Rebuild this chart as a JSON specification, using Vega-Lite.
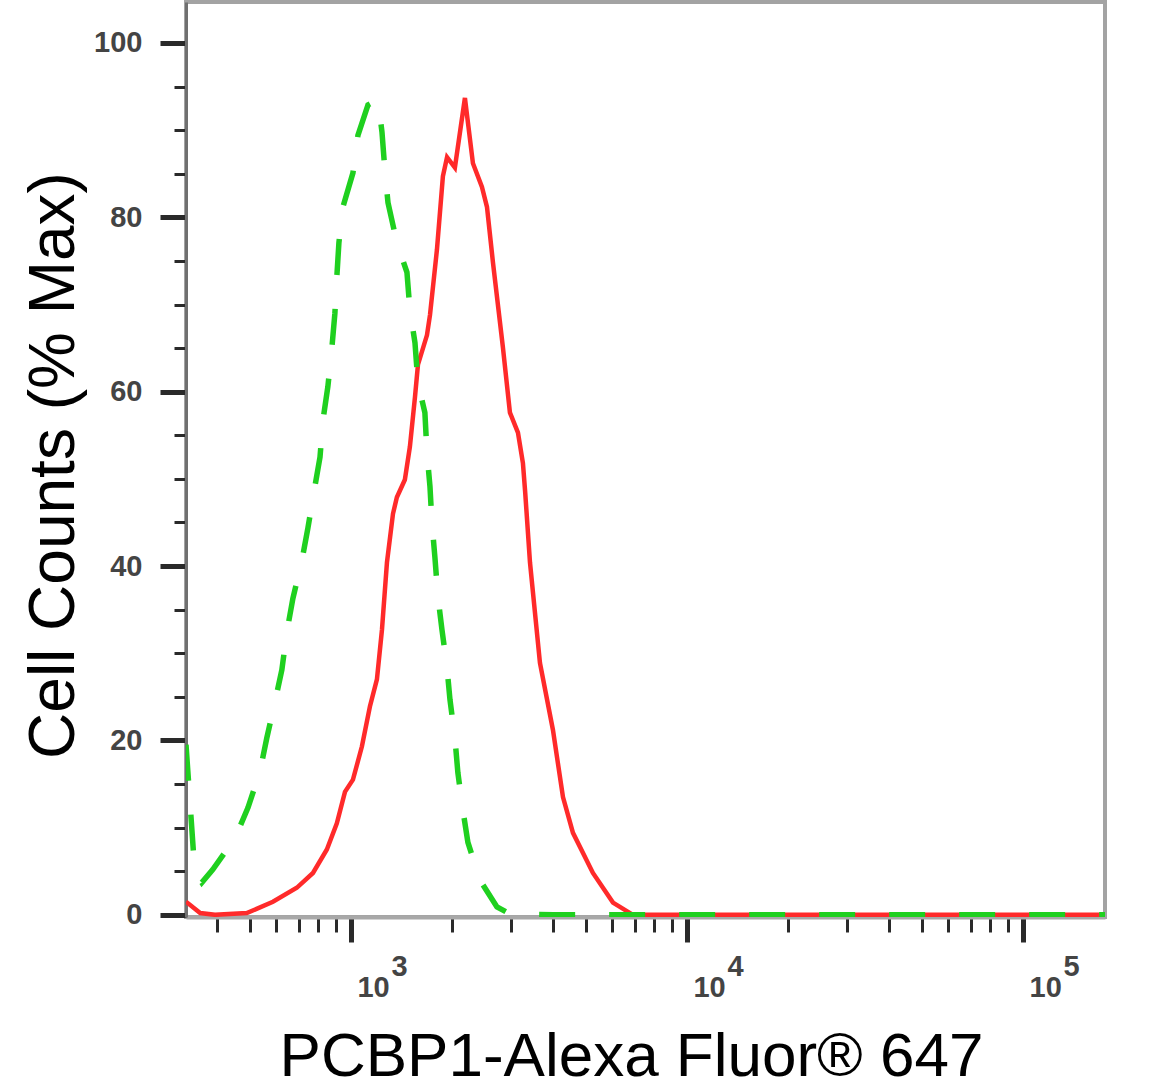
{
  "$schema": "https://vega.github.io/schema/vega-lite/v6.json",
  "width": 919,
  "height": 915,
  "autosize": {"type": "none"},
  "padding": {"left": 186, "top": 2, "right": 45, "bottom": 173},
  "background": "white",
  "config": {"view": {"stroke": "#a3a3a3", "strokeWidth": 4}},
  "datasets": {
    "stained": [
      {"x": 323, "y": 1.5}, {"x": 356, "y": 0.2}, {"x": 394, "y": 0}, {"x": 490, "y": 0.2},
      {"x": 586, "y": 1.5}, {"x": 690, "y": 3.1}, {"x": 771, "y": 4.8}, {"x": 848, "y": 7.5},
      {"x": 908, "y": 10.5}, {"x": 960, "y": 14.1}, {"x": 1014, "y": 15.5}, {"x": 1078, "y": 19.3},
      {"x": 1139, "y": 23.9}, {"x": 1195, "y": 27}, {"x": 1237, "y": 32.7}, {"x": 1280, "y": 40.4},
      {"x": 1334, "y": 46}, {"x": 1370, "y": 47.9}, {"x": 1447, "y": 49.9}, {"x": 1498, "y": 53.7},
      {"x": 1551, "y": 59.4}, {"x": 1583, "y": 63.1}, {"x": 1684, "y": 66.5}, {"x": 1719, "y": 68.8},
      {"x": 1803, "y": 76.3}, {"x": 1878, "y": 84.7}, {"x": 1932, "y": 86.9}, {"x": 2039, "y": 85.7},
      {"x": 2184, "y": 93.7}, {"x": 2307, "y": 86.2}, {"x": 2454, "y": 83.5}, {"x": 2540, "y": 81.2},
      {"x": 2647, "y": 74.8}, {"x": 2833, "y": 65.1}, {"x": 2973, "y": 57.6}, {"x": 3141, "y": 55.3},
      {"x": 3250, "y": 51.8}, {"x": 3300, "y": 48.5}, {"x": 3411, "y": 40.4}, {"x": 3652, "y": 28.9},
      {"x": 3992, "y": 21.2}, {"x": 4276, "y": 13.5}, {"x": 4579, "y": 9.4}, {"x": 5250, "y": 4.8},
      {"x": 6023, "y": 1.4}, {"x": 6905, "y": 0}, {"x": 10000, "y": 0}, {"x": 50000, "y": 0},
      {"x": 175400, "y": 0}
    ],
    "control": [
      {"x": 323, "y": 19.5}, {"x": 343, "y": 5}, {"x": 360, "y": 3.7}, {"x": 388, "y": 5.2},
      {"x": 452, "y": 8.8}, {"x": 494, "y": 12.3}, {"x": 536, "y": 16.4}, {"x": 562, "y": 20.3},
      {"x": 594, "y": 24.4}, {"x": 623, "y": 28.1}, {"x": 645, "y": 32.5}, {"x": 672, "y": 36.3},
      {"x": 715, "y": 40.7}, {"x": 745, "y": 44.4}, {"x": 781, "y": 49.1}, {"x": 809, "y": 52.5},
      {"x": 826, "y": 56.8}, {"x": 854, "y": 60.6}, {"x": 878, "y": 65.1}, {"x": 896, "y": 69},
      {"x": 908, "y": 73.2}, {"x": 921, "y": 77.1}, {"x": 947, "y": 81.2}, {"x": 1014, "y": 85.1},
      {"x": 1049, "y": 89.4}, {"x": 1124, "y": 92.9}, {"x": 1203, "y": 93.5}, {"x": 1237, "y": 89.8},
      {"x": 1262, "y": 85.4}, {"x": 1289, "y": 81.7}, {"x": 1370, "y": 77.1}, {"x": 1468, "y": 73.7},
      {"x": 1498, "y": 69.4}, {"x": 1551, "y": 65.6}, {"x": 1583, "y": 61}, {"x": 1660, "y": 57.6},
      {"x": 1684, "y": 53}, {"x": 1719, "y": 49.1}, {"x": 1742, "y": 45}, {"x": 1778, "y": 41},
      {"x": 1815, "y": 36.5}, {"x": 1866, "y": 32.7}, {"x": 1931, "y": 28.4}, {"x": 1971, "y": 24.7},
      {"x": 2039, "y": 20.3}, {"x": 2081, "y": 16.3}, {"x": 2154, "y": 12}, {"x": 2229, "y": 8.3},
      {"x": 2420, "y": 4}, {"x": 2720, "y": 0.9}, {"x": 2973, "y": 0.1}, {"x": 4000, "y": 0},
      {"x": 20000, "y": 0}, {"x": 175400, "y": 0}
    ]
  },
  "resolve": {"axis": {"x": "independent"}},
  "layer": [
    {
      "data": {"name": "stained"},
      "mark": {"type": "line", "color": "#ff2a2a", "strokeWidth": 4.5, "clip": true},
      "encoding": {
        "x": {
          "field": "x", "type": "quantitative",
          "scale": {"type": "log", "domain": [323, 175400], "nice": false},
          "axis": {
            "orient": "bottom",
            "values": [400, 500, 600, 700, 800, 900, 1000, 2000, 3000, 4000, 5000, 6000, 7000, 8000, 9000, 10000, 20000, 30000, 40000, 50000, 60000, 70000, 80000, 90000, 100000],
            "labelExpr": "(datum.value == 1000 || datum.value == 10000 || datum.value == 100000) ? '10' : ''",
            "tickSize": {"condition": {"test": "datum.value == 1000 || datum.value == 10000 || datum.value == 100000", "value": 25}, "value": 15},
            "tickWidth": {"condition": {"test": "datum.value == 1000 || datum.value == 10000 || datum.value == 100000", "value": 5}, "value": 3},
            "tickColor": "#2a2a2a",
            "domainColor": "#a8a8a8",
            "domainWidth": 4,
            "grid": false,
            "labelFont": "Liberation Sans, Arial",
            "labelFontSize": 29,
            "labelFontWeight": "bold",
            "labelColor": "#444444",
            "labelAlign": "left",
            "labelBaseline": "alphabetic",
            "labelPadding": 54,
            "labelOffset": 6,
            "labelFlush": false,
            "labelOverlap": false,
            "title": "PCBP1-Alexa Fluor® 647",
            "titleFont": "Liberation Sans, Arial",
            "titleFontSize": 62,
            "titleFontWeight": "normal",
            "titleColor": "#000000",
            "titleX": 445,
            "titleY": 158,
            "titleAlign": "center",
            "titleBaseline": "alphabetic"
          }
        },
        "y": {
          "field": "y", "type": "quantitative",
          "scale": {"domain": [-0.25, 104.7], "nice": false, "zero": false},
          "axis": {
            "values": [0, 5, 10, 15, 20, 25, 30, 35, 40, 45, 50, 55, 60, 65, 70, 75, 80, 85, 90, 95, 100],
            "labelExpr": "datum.value % 20 == 0 ? datum.label : ''",
            "tickSize": {"condition": {"test": "datum.value % 20 == 0", "value": 26}, "value": 12},
            "tickWidth": {"condition": {"test": "datum.value % 20 == 0", "value": 5}, "value": 3},
            "tickColor": "#2a2a2a",
            "domainColor": "#707070",
            "domainWidth": 3,
            "grid": false,
            "labelFont": "Liberation Sans, Arial",
            "labelFontSize": 29,
            "labelFontWeight": "bold",
            "labelColor": "#444444",
            "labelPadding": 18,
            "labelAlign": "right",
            "labelBaseline": "middle",
            "labelOverlap": false,
            "labelFlush": false,
            "title": "Cell Counts (% Max)",
            "titleFont": "Liberation Sans, Arial",
            "titleFontSize": 64,
            "titleFontWeight": "normal",
            "titleColor": "#000000",
            "titleAngle": -90,
            "titleX": -113,
            "titleY": 463,
            "titleAlign": "center",
            "titleBaseline": "alphabetic"
          }
        }
      }
    },
    {
      "data": {"name": "control"},
      "mark": {"type": "line", "color": "#1fd01f", "strokeWidth": 5.5, "strokeDash": [36, 34], "clip": true},
      "encoding": {
        "x": {
          "field": "x", "type": "quantitative",
          "scale": {"type": "log", "domain": [323, 175400], "nice": false},
          "axis": {
            "orient": "bottom",
            "values": [1000, 10000, 100000],
            "labelExpr": "datum.value == 1000 ? '3' : datum.value == 10000 ? '4' : '5'",
            "ticks": false,
            "tickSize": 0,
            "domain": false,
            "grid": false,
            "labelFont": "Liberation Sans, Arial",
            "labelFontSize": 29,
            "labelFontWeight": "bold",
            "labelColor": "#444444",
            "labelAlign": "left",
            "labelBaseline": "alphabetic",
            "labelPadding": 58,
            "labelOffset": 40,
            "labelFlush": false,
            "labelOverlap": false,
            "title": null
          }
        },
        "y": {
          "field": "y", "type": "quantitative",
          "scale": {"domain": [-0.25, 104.7], "nice": false, "zero": false},
          "axis": {
            "values": [0, 5, 10, 15, 20, 25, 30, 35, 40, 45, 50, 55, 60, 65, 70, 75, 80, 85, 90, 95, 100],
            "labelExpr": "datum.value % 20 == 0 ? datum.label : ''",
            "tickSize": {"condition": {"test": "datum.value % 20 == 0", "value": 26}, "value": 12},
            "tickWidth": {"condition": {"test": "datum.value % 20 == 0", "value": 5}, "value": 3},
            "tickColor": "#2a2a2a",
            "domainColor": "#707070",
            "domainWidth": 3,
            "grid": false,
            "labelFont": "Liberation Sans, Arial",
            "labelFontSize": 29,
            "labelFontWeight": "bold",
            "labelColor": "#444444",
            "labelPadding": 18,
            "labelAlign": "right",
            "labelBaseline": "middle",
            "labelOverlap": false,
            "labelFlush": false,
            "title": "Cell Counts (% Max)",
            "titleFont": "Liberation Sans, Arial",
            "titleFontSize": 64,
            "titleFontWeight": "normal",
            "titleColor": "#000000",
            "titleAngle": -90,
            "titleX": -113,
            "titleY": 463,
            "titleAlign": "center",
            "titleBaseline": "alphabetic"
          }
        }
      }
    }
  ]
}
